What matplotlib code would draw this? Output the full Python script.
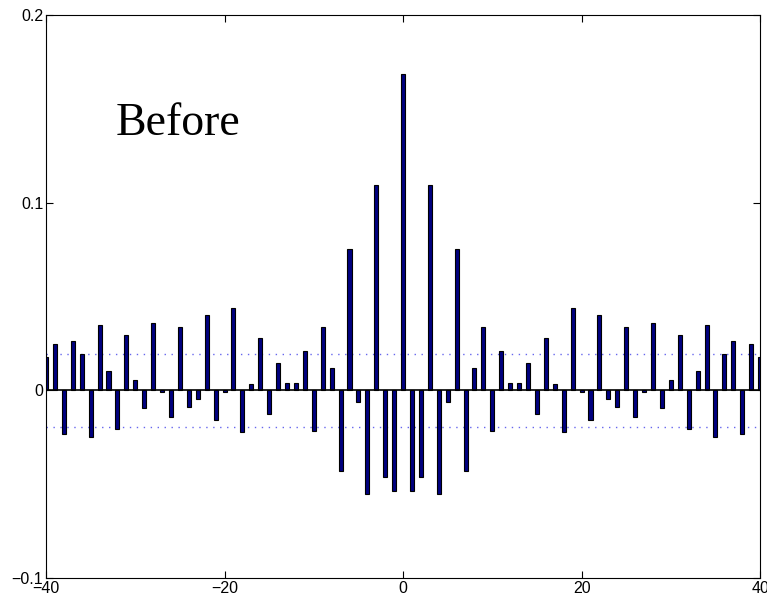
import numpy as np
from matplotlib import pyplot as plt

# autocorrelation values, lag -40..40
lags = list(range(-40, 41))
acf = [0.018, 0.0247, -0.0233, 0.0264, 0.0192, -0.0247, 0.035, 0.0105, -0.0208, 0.0295,
       0.0055, -0.0096, 0.0357, -0.001, -0.0144, 0.0336, -0.0087, -0.0047, 0.040, -0.016,
       -0.001, 0.044, -0.022, 0.0034, 0.028, -0.0126, 0.0147, 0.004, 0.004, 0.021,
       -0.0215, 0.0337, 0.0122, -0.043, 0.0753, -0.0064, -0.055, 0.1094, -0.046, -0.0535,
       0.1685,
       -0.0535, -0.046, 0.1094, -0.055, -0.0064, 0.0753, -0.043, 0.0122, 0.0337, -0.0215,
       0.021, 0.004, 0.004, 0.0147, -0.0126, 0.028, 0.0034, -0.022, 0.044, -0.001,
       -0.016, 0.040, -0.0047, -0.0087, 0.0336, -0.0144, -0.001, 0.0357, -0.0096, 0.0055,
       0.0295, -0.0208, 0.0105, 0.035, -0.0247, 0.0192, 0.0264, -0.0233, 0.0247, 0.018]
bound = 0.0196
label = 'Before'

plt.rcParams['font.family'] = ['Liberation Sans', 'DejaVu Sans']
fig = plt.figure(figsize=(7.67, 6.01), dpi=100)
ax = fig.add_axes([0.060, 0.038, 0.931, 0.937])

ax.bar(lags, acf, width=0.45, color='#000080', edgecolor='black', linewidth=0.8, zorder=2)
ax.axhline(0, color='black', linewidth=1.2, zorder=3)
ax.axhline(bound, color='#6666ee', linestyle=(0, (1, 4)), linewidth=1, zorder=1)
ax.axhline(-bound, color='#6666ee', linestyle=(0, (1, 4)), linewidth=1, zorder=1)

ax.set_xlim(-40, 40)
ax.set_ylim(-0.1, 0.2)
ax.set_xticks([-40, -20, 0, 20, 40])
ax.set_yticks([-0.1, 0, 0.1, 0.2])
ax.set_yticklabels(['\u22120.1', '0', '0.1', '0.2'])
ax.tick_params(direction='in', length=5, labelsize=11.5, top=True, right=True, pad=2)

ax.text(-32.2, 0.136, label, family='Liberation Serif', fontsize=33, va='baseline', ha='left')

fig.savefig('out.png', dpi=100)
